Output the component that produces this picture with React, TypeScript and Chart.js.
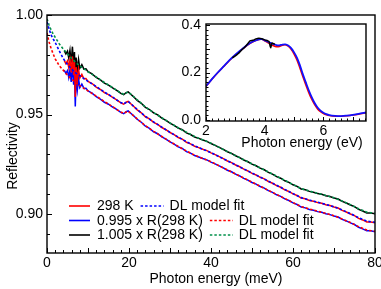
import React, { useEffect, useRef } from "react";
import { Chart, registerables } from "chart.js";

Chart.register(...registerables);

const FONT = '"Liberation Sans", Arial, Helvetica, sans-serif';

// ---------- main panel data (meV, reflectivity) ----------
const dataEnergy = [
  4.2, 4.6, 5.0, 5.3, 5.6, 5.9, 6.2, 6.5, 6.7, 6.9, 7.1, 7.4, 7.7, 8.0, 8.5, 9.0, 9.5,
  10, 11, 12, 13, 14, 15, 16, 17, 18, 18.7, 19.3, 19.8, 20.5, 21, 22, 23, 24, 25, 26, 27,
  28, 29, 30, 31, 32, 33, 34, 35, 36, 37, 38, 39, 40, 41, 42, 43, 44, 45, 46, 47, 48, 49,
  50, 51, 52, 53, 54, 55, 56, 57, 58, 59, 60, 61, 62, 63, 64, 65, 66, 67, 68, 69, 70, 71,
  72, 73, 74, 75, 76, 77, 78, 79, 80,
];
const dataR298 = [
  0.9772, 0.9756, 0.977, 0.9736, 0.9774, 0.9712, 0.9792, 0.9698, 0.9765, 0.9588, 0.9738,
  0.9672, 0.9728, 0.9684, 0.9702, 0.968, 0.9681,
  0.9667, 0.9656, 0.9638, 0.9626, 0.961, 0.96, 0.9586, 0.9574, 0.9559, 0.9552, 0.9562,
  0.9566, 0.9553, 0.9544, 0.9524, 0.9509, 0.9489, 0.9478, 0.9461, 0.9451,
  0.9435, 0.9424, 0.941, 0.9399, 0.9385, 0.9377, 0.9361, 0.9353, 0.9341, 0.9334, 0.9326,
  0.9319, 0.9308, 0.9299, 0.9289, 0.9279, 0.9267, 0.9259, 0.9247, 0.9238, 0.9226, 0.9217,
  0.9205, 0.9197, 0.9185, 0.9177, 0.9164, 0.9155, 0.9143, 0.9135, 0.9122, 0.9114, 0.9102,
  0.9094, 0.9081, 0.9077, 0.9069, 0.9065, 0.9058, 0.9055, 0.9047, 0.9043, 0.9036, 0.9031,
  0.9019, 0.9011, 0.9001, 0.8993, 0.8979, 0.8971, 0.8961, 0.8961, 0.8957,
];
const lowFactor = 0.995;
const highFactor = 1.005;

const fitEnergy = [
  0, 0.5, 1, 1.5, 2, 3, 4, 5, 6, 7, 8, 10, 12, 14, 16, 17, 18, 18.7, 19.3, 19.8, 20.5, 21,
  22, 24, 26, 28, 30, 33, 36, 40, 44, 48, 52, 56, 60, 62, 64, 66, 68, 70, 72, 74, 76, 78, 80,
];
const fitR298 = [
  0.9965, 0.993, 0.99, 0.988, 0.9862, 0.982, 0.978, 0.9752, 0.9728, 0.9709, 0.9695, 0.9667,
  0.9641, 0.9613, 0.9588, 0.9573, 0.9561, 0.9554, 0.9561, 0.9565, 0.9554, 0.9544,
  0.9526, 0.9491, 0.9463, 0.9437, 0.9411, 0.9375, 0.9343, 0.9309, 0.9268, 0.9227, 0.9186,
  0.9145, 0.9103, 0.9083, 0.9071, 0.906, 0.9049, 0.9037, 0.9021, 0.9003, 0.8982, 0.8965,
  0.8959,
];
const fitLow = [
  0.991, 0.9865, 0.9832, 0.9805, 0.978, 0.9745, 0.9722, 0.9698, 0.9678, 0.966, 0.9645,
  0.9619, 0.9593, 0.9565, 0.954, 0.9525, 0.9513, 0.9506, 0.9513, 0.9517, 0.9506, 0.9496,
  0.9478, 0.9444, 0.9416, 0.939, 0.9364, 0.9328, 0.9296, 0.9263, 0.9222, 0.9181, 0.914,
  0.9099, 0.9058, 0.9038, 0.9026, 0.9015, 0.9004, 0.8992, 0.8976, 0.8958, 0.8937, 0.892,
  0.8914,
];
const fitHigh = [
  0.998, 0.995, 0.9925, 0.9905, 0.9888, 0.9855, 0.9828, 0.9805, 0.9783, 0.9762, 0.9745,
  0.9715, 0.9689, 0.9661, 0.9636, 0.9621, 0.9609, 0.9602, 0.9609, 0.9613, 0.9602, 0.9592,
  0.9574, 0.9538, 0.951, 0.9484, 0.9458, 0.9422, 0.939, 0.9356, 0.9314, 0.9273, 0.9232,
  0.9191, 0.9149, 0.9128, 0.9116, 0.9105, 0.9094, 0.9082, 0.9066, 0.9048, 0.9027, 0.901,
  0.9004,
];

const mainXTicks = [0, 20, 40, 60, 80];
const mainYTicks = [0.9, 0.95, 1.0];

// ---------- inset data (eV, reflectivity) ----------
const insetEnergy = [
  2.0, 2.2, 2.4, 2.6, 2.8, 3.0, 3.2, 3.4, 3.6, 3.8, 3.9, 4.0, 4.1, 4.2, 4.3, 4.4, 4.5, 4.6,
  4.7, 4.8, 4.9, 5.0, 5.1, 5.2, 5.3, 5.4, 5.5, 5.6, 5.7, 5.8, 5.9, 6.0, 6.1, 6.2, 6.4, 6.6,
  6.8, 7.0, 7.2, 7.45,
];
const insetFit = [
  0.142, 0.172, 0.2, 0.226, 0.252, 0.275, 0.296, 0.316, 0.331, 0.34, 0.341, 0.336, 0.33,
  0.325, 0.32, 0.316, 0.315, 0.318, 0.319, 0.314, 0.303, 0.285, 0.262, 0.23, 0.192, 0.158,
  0.125, 0.096, 0.071, 0.052, 0.039, 0.03, 0.024, 0.02, 0.017, 0.016, 0.018, 0.021, 0.025,
  0.031,
];
const insetData = [
  0.141, 0.171, 0.199, 0.225, 0.251, 0.274, 0.295, 0.315, 0.33, 0.339, 0.34, 0.334, 0.326,
  0.32, 0.313, 0.309, 0.31, 0.315, 0.317, 0.311, 0.298, 0.278, 0.252, 0.218, 0.182, 0.147,
  0.115, 0.087, 0.064, 0.046, 0.034, 0.026, 0.021, 0.018, 0.015, 0.015, 0.017, 0.02, 0.024,
  0.03,
];
const insetBlackEnergy = [
  2.9, 3.0, 3.1, 3.2, 3.3, 3.4, 3.5, 3.6, 3.7, 3.8, 3.9, 4.0, 4.1, 4.15, 4.2, 4.25, 4.3, 4.35,
];
const insetBlack = [
  0.262, 0.27, 0.28, 0.293, 0.305, 0.318, 0.334, 0.336, 0.342, 0.345, 0.343, 0.338, 0.334,
  0.33, 0.305, 0.325, 0.322, 0.32,
];
const insetXTicks = [2, 4, 6];
const insetYTicks = [0, 0.2, 0.4];

// ---------- legend entries ----------
const legendRows = [
  { label: "298 K", color: "#ff0000", fitColor: "#0000ff" },
  { label: "0.995 x R(298 K)", color: "#0000ff", fitColor: "#ff0000" },
  { label: "1.005 x R(298 K)", color: "#000000", fitColor: "#00904a" },
];
const fitLabel = "DL model fit";

const pts = (xs: number[], ys: number[]) => xs.map((x, i) => ({ x, y: ys[i] }));

// Frame + inward ticks + titles
const framePlugin = {
  id: "frameTicks",
  afterDatasetsDraw(chart: any, _args: any, opts: any) {
    const { ctx, chartArea: a, scales } = chart;
    const xs = scales.x;
    const ys = scales.y;
    ctx.save();
    ctx.strokeStyle = "#000";
    ctx.lineWidth = 1.4;
    ctx.strokeRect(a.left, a.top, a.right - a.left, a.bottom - a.top);
    ctx.lineWidth = 1;
    const drawTicks = (start: number, end: number, minor: number, major: number, horiz: boolean) => {
      const n = Math.round((end - start) / minor);
      for (let i = 0; i <= n; i++) {
        const v = start + i * minor;
        const r = v / major;
        const isMajor = Math.abs(r - Math.round(r)) < 1e-6;
        const len = isMajor ? opts.majorLen : opts.minorLen;
        ctx.beginPath();
        if (horiz) {
          const px = Math.round(xs.getPixelForValue(v)) + 0.5;
          if (px < a.left - 1 || px > a.right + 1) continue;
          ctx.moveTo(px, a.bottom);
          ctx.lineTo(px, a.bottom - len);
        } else {
          const py = Math.round(ys.getPixelForValue(v)) + 0.5;
          if (py < a.top - 1 || py > a.bottom + 1) continue;
          ctx.moveTo(a.left, py);
          ctx.lineTo(a.left + len, py);
        }
        ctx.stroke();
      }
    };
    drawTicks(opts.xStart, opts.xEnd, opts.xMinor, opts.xMajor, true);
    drawTicks(opts.yStart, opts.yEnd, opts.yMinor, opts.yMajor, false);

    ctx.fillStyle = "#000";
    ctx.font = `14px ${FONT}`;
    ctx.textBaseline = "alphabetic";
    ctx.textAlign = "center";
    if (opts.xTitle) ctx.fillText(opts.xTitle.text, opts.xTitle.x, opts.xTitle.y);
    if (opts.yTitle) {
      ctx.save();
      ctx.translate(opts.yTitle.x, opts.yTitle.y);
      ctx.rotate(-Math.PI / 2);
      ctx.fillText(opts.yTitle.text, 0, 0);
      ctx.restore();
    }
    ctx.restore();
  },
};

const legendPlugin = {
  id: "customLegend",
  afterDatasetsDraw(chart: any, _args: any, opts: any) {
    if (!opts || !opts.show) return;
    const { ctx } = chart;
    ctx.save();
    ctx.font = `14px ${FONT}`;
    ctx.textBaseline = "middle";
    ctx.textAlign = "left";
    legendRows.forEach((row, i) => {
      const y = opts.y0 + i * opts.dy;
      ctx.setLineDash([]);
      ctx.strokeStyle = row.color;
      ctx.lineWidth = 1.6;
      ctx.beginPath();
      ctx.moveTo(opts.x0, y);
      ctx.lineTo(opts.x0 + 21, y);
      ctx.stroke();
      ctx.fillStyle = "#000";
      const tx = opts.x0 + 28;
      ctx.fillText(row.label, tx, y + 0.5);
      const w = ctx.measureText(row.label).width;
      const lx = tx + w + 7;
      ctx.setLineDash([2.5, 2]);
      ctx.strokeStyle = row.fitColor;
      ctx.beginPath();
      ctx.moveTo(lx, y);
      ctx.lineTo(lx + 23, y);
      ctx.stroke();
      ctx.setLineDash([]);
      ctx.fillText(fitLabel, lx + 29, y + 0.5);
    });
    ctx.restore();
  },
};

export default function App() {
  const mainRef = useRef<HTMLCanvasElement>(null);
  const insetRef = useRef<HTMLCanvasElement>(null);

  useEffect(() => {
    Chart.defaults.font.family = FONT;
    Chart.defaults.font.size = 14;
    Chart.defaults.color = "#000";

    const dotted = [2.5, 2];
    const main = new Chart(mainRef.current!, {
      type: "line",
      data: {
        datasets: [
          { data: pts(fitEnergy, fitR298), borderColor: "#0000ff", borderDash: dotted, borderWidth: 1.6, order: 0 },
          { data: pts(fitEnergy, fitLow), borderColor: "#ff0000", borderDash: dotted, borderWidth: 1.6, order: 0 },
          { data: pts(fitEnergy, fitHigh), borderColor: "#00904a", borderDash: dotted, borderWidth: 1.6, order: 0 },
          { data: pts(dataEnergy, dataR298), borderColor: "#ff0000", borderWidth: 1.5, order: 1 },
          { data: pts(dataEnergy, dataR298.map((v) => v * lowFactor)), borderColor: "#0000ff", borderWidth: 1.5, order: 1 },
          { data: pts(dataEnergy, dataR298.map((v) => v * highFactor)), borderColor: "#000000", borderWidth: 1.5, order: 1 },
        ],
      },
      options: {
        responsive: false,
        animation: false,
        devicePixelRatio: 1,
        parsing: false,
        elements: { point: { radius: 0 }, line: { tension: 0 } },
        layout: { padding: { top: 15, right: 6, bottom: 0, left: 0 } },
        plugins: {
          legend: { display: false },
          tooltip: { enabled: false },
          frameTicks: {
            xStart: 0, xEnd: 80, xMinor: 2, xMajor: 10,
            yStart: 0.88, yEnd: 1.0, yMinor: 0.01, yMajor: 0.05,
            majorLen: 5, minorLen: 3,
            xTitle: { text: "Photon energy (meV)", x: 216, y: 283 },
            yTitle: { text: "Reflectivity", x: 17, y: 156 },
          },
          customLegend: { show: true, x0: 69, y0: 206, dy: 14.5 },
        } as any,
        scales: {
          x: {
            type: "linear",
            min: 0,
            max: 80,
            grid: { display: false, drawTicks: false },
            border: { display: false },
            ticks: { padding: 2, color: "#000", font: { size: 14 }, maxRotation: 0, autoSkip: false, callback: (v: any) => String(v) },
            afterBuildTicks: (s: any) => { s.ticks = mainXTicks.map((v) => ({ value: v })); },
            afterFit: (s: any) => { s.height = 36; s.paddingLeft = 0; s.paddingRight = 0; },
          },
          y: {
            type: "linear",
            min: 0.8805,
            max: 1.0,
            grid: { display: false, drawTicks: false },
            border: { display: false },
            ticks: { padding: 4, color: "#000", font: { size: 14 }, autoSkip: false, callback: (v: any) => Number(v).toFixed(2) },
            afterBuildTicks: (s: any) => { s.ticks = mainYTicks.map((v) => ({ value: v })); },
            afterFit: (s: any) => { s.width = 47; s.paddingTop = 0; s.paddingBottom = 0; },
          },
        },
      },
      plugins: [framePlugin, legendPlugin],
    } as any);

    const inset = new Chart(insetRef.current!, {
      type: "line",
      data: {
        datasets: [
          { data: pts(insetBlackEnergy, insetBlack), borderColor: "#000000", borderWidth: 1.5, order: 0 },
          { data: pts(insetEnergy, insetFit), borderColor: "#1010ff", borderWidth: 1.8, order: 1 },
          { data: pts(insetEnergy, insetData), borderColor: "#ff0000", borderWidth: 1.5, order: 2 },
        ],
      },
      options: {
        responsive: false,
        animation: false,
        devicePixelRatio: 1,
        parsing: false,
        elements: { point: { radius: 0 }, line: { tension: 0.3 } },
        layout: { padding: { top: 24, right: 15, bottom: 138, left: 170 } },
        plugins: {
          legend: { display: false },
          tooltip: { enabled: false },
          frameTicks: {
            xStart: 2, xEnd: 7.4, xMinor: 0.2, xMajor: 1,
            yStart: 0, yEnd: 0.4, yMinor: 0.02, yMajor: 0.1,
            majorLen: 4, minorLen: 2.5,
            xTitle: { text: "Photon energy (eV)", x: 302, y: 147 },
          },
          customLegend: { show: false },
        } as any,
        scales: {
          x: {
            type: "linear",
            min: 2,
            max: 7.45,
            grid: { display: false, drawTicks: false },
            border: { display: false },
            ticks: { padding: 2, color: "#000", font: { size: 14 }, maxRotation: 0, autoSkip: false, callback: (v: any) => String(v) },
            afterBuildTicks: (s: any) => { s.ticks = insetXTicks.map((v) => ({ value: v })); },
            afterFit: (s: any) => { s.height = 30; s.paddingLeft = 0; s.paddingRight = 0; },
          },
          y: {
            type: "linear",
            min: -0.005,
            max: 0.405,
            grid: { display: false, drawTicks: false },
            border: { display: false },
            ticks: { padding: 5, color: "#000", font: { size: 14 }, autoSkip: false, callback: (v: any) => Number(v).toFixed(1) },
            afterBuildTicks: (s: any) => { s.ticks = insetYTicks.map((v) => ({ value: v })); },
            afterFit: (s: any) => { s.width = 36; s.paddingTop = 0; s.paddingBottom = 0; },
          },
        },
      },
      plugins: [framePlugin, legendPlugin],
    } as any);

    return () => {
      main.destroy();
      inset.destroy();
    };
  }, []);

  return (
    <div style={{ position: "fixed", left: 0, top: 0, width: 381, height: 289, background: "#fff" }}>
      <canvas ref={mainRef} width={381} height={289} style={{ position: "absolute", left: 0, top: 0, display: "block" }} />
      <canvas ref={insetRef} width={381} height={289} style={{ position: "absolute", left: 0, top: 0, display: "block" }} />
    </div>
  );
}
